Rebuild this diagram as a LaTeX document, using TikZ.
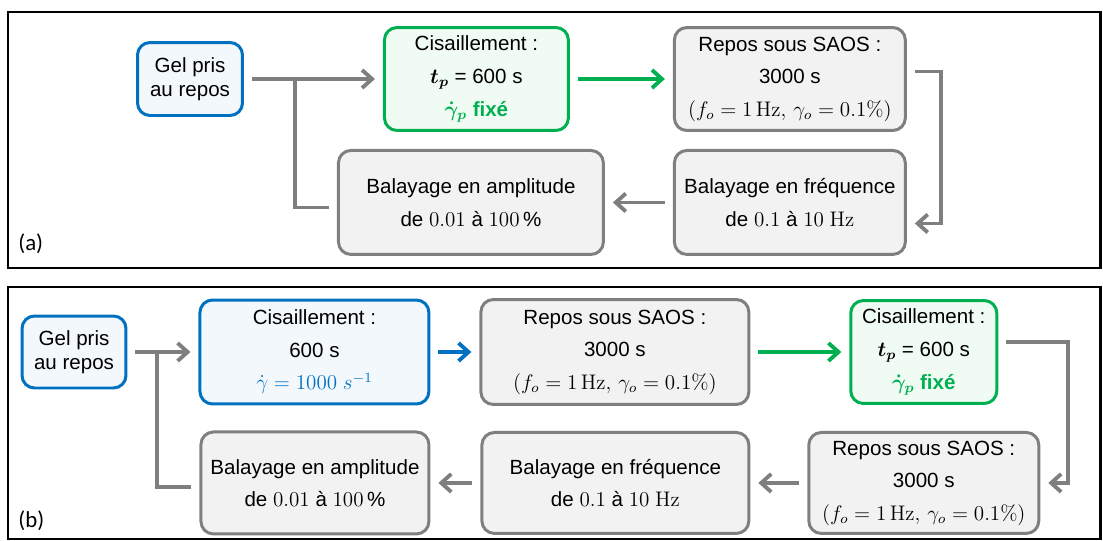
\documentclass[tikz,border=0pt]{standalone}
\usepackage{amsmath}
\usepackage{bm}
\usepackage[no-math]{fontspec}
\setmainfont{Liberation Sans}
\newfontfamily\panelfont{Carlito}
\usetikzlibrary{arrows.meta,positioning,calc}

\definecolor{grayline}{HTML}{7F7F7F}
\definecolor{grayfill}{HTML}{F2F2F2}
\definecolor{blueline}{HTML}{0070C0}
\definecolor{bluefill}{HTML}{F3F8FD}
\definecolor{greenline}{HTML}{00B050}
\definecolor{greenfill}{HTML}{EFFBF3}

\begin{document}
\begin{tikzpicture}[x=0.02cm, y=-0.02cm, >={Straight Barb[length=2mm,width=3.6mm]},
    font=\fontsize{11.7}{18.5}\selectfont]
    % Styles des blocs
    \tikzstyle{block} = [draw=grayline, fill=grayfill, line width=1.7pt, rounded corners=0.25cm, align=center, inner sep=2pt]
    \tikzstyle{startblock} = [block, draw=blueline, fill=bluefill, font=\fontsize{11.7}{14}\selectfont]
    \tikzstyle{blueblock} = [block, draw=blueline, fill=bluefill]
    \tikzstyle{greenblock} = [block, draw=greenline, fill=greenfill]
    \tikzstyle{flow} = [->, draw=grayline, line width=2.2pt, shorten <=0.16cm, shorten >=0.16cm]
    \tikzstyle{loopback} = [draw=grayline, line width=2.2pt, shorten <=0.16cm]
    \tikzstyle{panel} = [font=\panelfont\fontsize{13}{15}\selectfont, anchor=west, inner sep=0pt]

    \useasboundingbox (0,0) rectangle (1103,541);

    % --- Cadres ---
    \draw[line width=1.7pt] (8,12) rectangle (1100,268);
    \draw[line width=1.7pt] (8,287) rectangle (1100,539);
    \node[panel] (labA) at (18,244) {(a)};
    \node[panel] (labB) at (18,521) {(b)};

    % --- Protocole (a) ---
    \node[startblock, minimum width=2.1cm, minimum height=1.46cm] (gelA) at (190,79) {Gel pris\\au repos};
    \node[greenblock, minimum width=3.68cm, minimum height=2.06cm, right=2.78cm of gelA] (cisA)
        {Cisaillement~:\\ $\bm{t_p}$ = 600 s\\ \textcolor{greenline}{$\bm{\dot{\gamma}_p}$ \textbf{fixé}}};
    \node[block, minimum width=4.62cm, minimum height=2.06cm, right=2.06cm of cisA] (reposA)
        {Repos sous SAOS~:\\ 3000 s\\ $(f_o = 1\,\mathrm{Hz},\, \gamma_o = 0.1\%)$};
    \node[block, minimum width=4.62cm, minimum height=2.08cm, below=0.34cm of reposA] (freqA)
        {Balayage en fréquence\\ de $0.1$ à $10\ \mathrm{Hz}$};
    \node[block, minimum width=5.3cm, minimum height=2.08cm, left=1.36cm of freqA] (ampA)
        {Balayage en amplitude\\ de $0.01$ à $100$\,\%};

    \draw[flow] (gelA.east) -- (gelA.east -| cisA.west);
    \draw[loopback] ($(ampA.west)+(0,-0.1cm)$) -| ($(gelA.east)!0.37!(gelA.east -| cisA.west)$);
    \draw[flow, draw=greenline] (cisA.east) -- (cisA.east -| reposA.west);
    \draw[flow] ($(reposA.east)+(0,0.15cm)$) -- ++(0.68cm,0) |- ($(freqA.east)+(0,-0.42cm)$);
    \draw[flow] (freqA.west) -- (freqA.west -| ampA.east);

    % --- Protocole (b) ---
    \node[startblock, minimum width=2.08cm, minimum height=1.44cm] (gelB) at (74,352) {Gel pris\\au repos};
    \node[blueblock, minimum width=4.58cm, minimum height=2.08cm, right=1.42cm of gelB] (cisB)
        {Cisaillement~:\\ 600 s\\ \textcolor{blueline}{$\dot{\gamma} = 1000\ s^{-1}$}};
    \node[block, minimum width=5.36cm, minimum height=2.1cm, right=0.98cm of cisB] (reposB)
        {Repos sous SAOS~:\\ 3000 s\\ $(f_o = 1\,\mathrm{Hz},\, \gamma_o = 0.1\%)$};
    \node[greenblock, minimum width=2.92cm, minimum height=2.06cm, right=1.98cm of reposB] (cisB2)
        {Cisaillement~:\\ $\bm{t_p}$ = 600 s\\ \textcolor{greenline}{$\bm{\dot{\gamma}_p}$ \textbf{fixé}}};
    \node[block, minimum width=4.6cm, minimum height=2.02cm, below=0.52cm of cisB2] (reposB2)
        {Repos sous SAOS~:\\ 3000 s\\ $(f_o = 1\,\mathrm{Hz},\, \gamma_o = 0.1\%)$};
    \node[block, minimum width=5.34cm, minimum height=2.02cm, left=1.14cm of reposB2] (freqB)
        {Balayage en fréquence\\ de $0.1$ à $10\ \mathrm{Hz}$};
    \node[block, minimum width=4.56cm, minimum height=2.04cm, left=1cm of freqB] (ampB)
        {Balayage en amplitude\\ de $0.01$ à $100$\,\%};

    \draw[flow] (gelB.east) -- (gelB.east -| cisB.west);
    \draw[loopback] ($(ampB.west)+(0,-0.08cm)$) -| ($(gelB.east)!0.42!(gelB.east -| cisB.west)$);
    \draw[flow, draw=blueline] (cisB.east) -- (cisB.east -| reposB.west);
    \draw[flow, draw=greenline] (reposB.east) -- (reposB.east -| cisB2.west);
    \draw[flow] ($(cisB2.east)+(0,0.2cm)$) -- ++(1.4cm,0) |- (reposB2.east);
    \draw[flow] (reposB2.west) -- (reposB2.west -| freqB.east);
    \draw[flow] (freqB.west) -- (freqB.west -| ampB.east);

\end{tikzpicture}
\end{document}
